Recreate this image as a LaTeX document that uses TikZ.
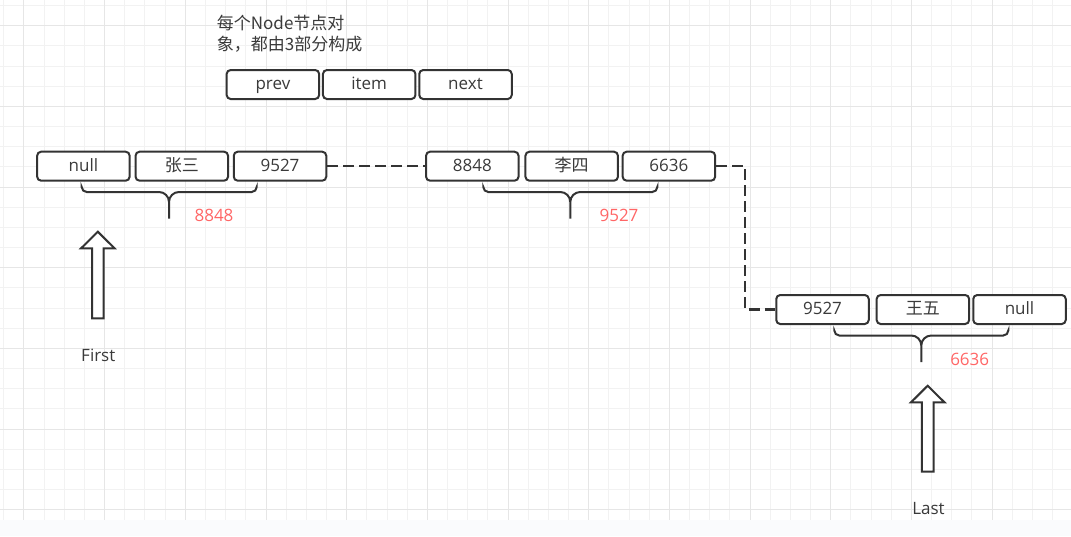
\documentclass[tikz,border=0pt]{standalone}
\usepackage{fontspec}
\setmainfont{Open Sans}
\newfontfamily\cjk{Noto Sans CJK SC}
\definecolor{boxline}{HTML}{333333}
\definecolor{txt}{HTML}{3A3A3A}
\definecolor{memred}{HTML}{FF6666}
\definecolor{gridminor}{HTML}{F2F2F2}
\definecolor{gridmajor}{HTML}{E6E6E6}
\definecolor{strip}{HTML}{FAFBFD}
\tikzset{
cell/.style={draw=boxline, fill=white, line width=2pt, rounded corners=4pt,
  minimum width=92.5pt, minimum height=29pt, inner sep=0pt,
  text height=13pt, text depth=3pt, text=txt, font=\fontsize{17}{20}\selectfont},
link/.style={draw=boxline, line width=2.2pt, dash pattern=on 11pt off 5pt},
curly/.style={draw=boxline, line width=2pt, rounded corners=5pt},
hollow/.style={draw=boxline, fill=white, line width=2pt, line join=miter},
caption/.style={text=txt, inner sep=0pt, font=\fontsize{17}{20}\selectfont},
addr/.style={text=memred, inner sep=0pt, font=\fontsize{17}{20}\selectfont}
}
\begin{document}
\begin{tikzpicture}[x=1pt,y=-1pt]
\useasboundingbox (0,0) rectangle (1071,536);
\fill[white] (0,0) rectangle (1071,536);
\fill[strip] (0,520) rectangle (1071,536);
% grid paper
\foreach \k in {0,...,52}
  \draw[gridminor, line width=1pt] ({3.8+20.17*\k},0) -- ({3.8+20.17*\k},520);
\foreach \k in {0,...,25}
  \draw[gridminor, line width=1pt] (0,{5.5+20.17*\k}) -- (1071,{5.5+20.17*\k});
\foreach \k in {1,5,...,49}
  \draw[gridmajor, line width=1pt] ({3.8+20.17*\k},0) -- ({3.8+20.17*\k},520);
\foreach \k in {1,5,...,25}
  \draw[gridmajor, line width=1pt] (0,{5.5+20.17*\k}) -- (1071,{5.5+20.17*\k});

% legend
\node[caption, anchor=base west] (t1) at (216.7,29.3) {\cjk 每个Node节点对};
\node[caption, anchor=base west] (t2) at (216.7,50.3) {\cjk 象，都由3部分构成};
\node[cell] (prev) at (272.9,84.5) {prev};
\node[cell] (item) at (369.2,84.5) {item};
\node[cell] (next) at (465.5,84.5) {next};

% braces
\draw[curly] (81.7,187.5) |- (150,192) [rounded corners=10pt] -- (169,192) -- (169,218.5)
  (256.7,187.5) [rounded corners=5pt] |- (190,192) [rounded corners=10pt] -- (169,192) -- (169,218.5);
\draw[curly] (483.3,187.5) |- (550,192) [rounded corners=10pt] -- (570.3,192) -- (570.3,218.5)
  (657.3,187.5) [rounded corners=5pt] |- (590,192) [rounded corners=10pt] -- (570.3,192) -- (570.3,218.5);
\draw[curly] (834.3,331) |- (900,335.5) [rounded corners=10pt] -- (921.3,335.5) -- (921.3,362)
  (1008.3,331) [rounded corners=5pt] |- (940,335.5) [rounded corners=10pt] -- (921.3,335.5) -- (921.3,362);

% first node
\node[cell] (a1) at (83.4,166.2) {null};
\node[cell] (a2) at (181.8,166.2) {\cjk 张三};
\node[cell] (a3) at (280,166.2) {9527};
% second node
\node[cell] (b1) at (472.3,166.2) {8848};
\node[cell] (b2) at (571.7,166.2) {\cjk 李四};
\node[cell] (b3) at (668.9,166.2) {6636};
% third node
\node[cell] (c1) at (822.5,309.5) {9527};
\node[cell] (c2) at (922.9,309.5) {\cjk 王五};
\node[cell] (c3) at (1019.5,309.5) {null};

\draw[link] (a3.east) -- (b1.west);
\draw[link] (b3.east) -- ++(29,0) |- (c1.west);

\node[addr, anchor=base] (m1) at (214,221.7) {8848};
\node[addr, anchor=base] (m2) at (619,221.7) {9527};
\node[addr, anchor=base] (m3) at (969.7,365) {6636};

% pointers
\draw[hollow] (97.8,231.7) -- ++(16.7,16.6) -- ++(-10.9,0) -- ++(0,70) -- ++(-11.6,0)
  -- ++(0,-70) -- ++(-10.9,0) -- cycle;
\node[caption, anchor=base] (first) at (98.3,361.7) {First};
\draw[hollow] (927.7,385.7) -- ++(16.7,16.6) -- ++(-10.9,0) -- ++(0,69.4) -- ++(-11.6,0)
  -- ++(0,-69.4) -- ++(-10.9,0) -- cycle;
\node[caption, anchor=base] (last) at (928.5,514) {Last};
\end{tikzpicture}
\end{document}
